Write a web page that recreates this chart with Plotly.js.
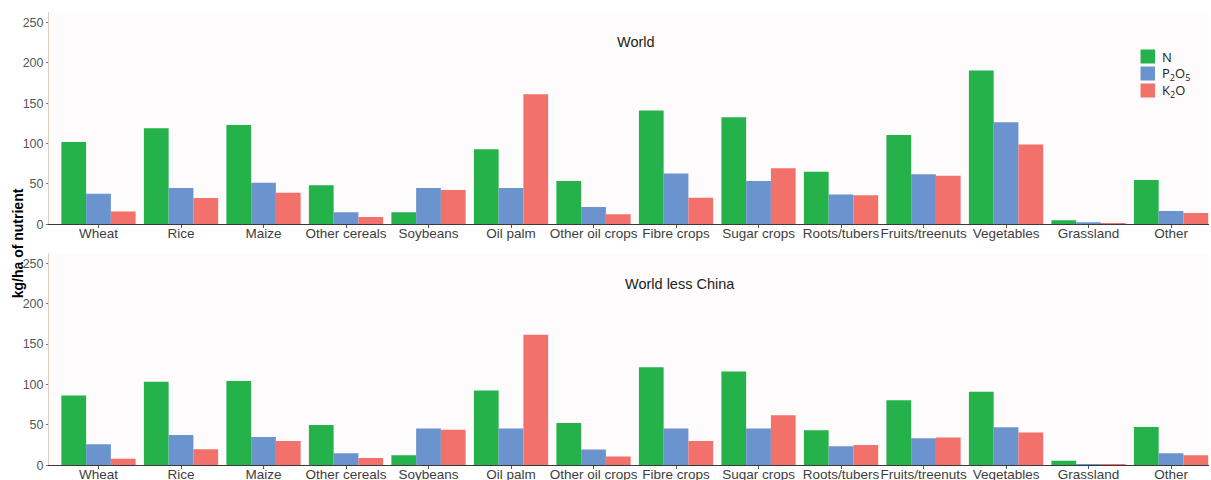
<!DOCTYPE html>
<html>
<head>
<meta charset="utf-8">
<script src="https://cdn.plot.ly/plotly-3.0.1.min.js"></script>
<style>
  html, body { margin: 0; padding: 0; background: #ffffff; overflow: hidden; }
  #chart { width: 1211px; height: 480px; }
</style>
</head>
<body>
<div id="chart"></div>
<script>
// Crop categories
const crops = ["Wheat", "Rice", "Maize", "Other cereals", "Soybeans", "Oil palm",
  "Other oil crops", "Fibre crops", "Sugar crops", "Roots/tubers",
  "Fruits/treenuts", "Vegetables", "Grassland", "Other"];

// Nutrient application rates, kg/ha — World
const worldN   = [102, 119, 123, 48.5, 15, 93, 53.5, 141, 132.5, 65, 110.5, 190.5, 5, 55];
const worldP2O5 = [38, 45, 51.5, 15, 45, 45, 21.5, 63, 53.5, 37, 62, 126.5, 2.5, 16.5];
const worldK2O = [16, 32.5, 39, 9, 42.5, 161, 12.5, 33, 69.5, 36, 60, 99, 1.5, 14];

// Nutrient application rates, kg/ha — World less China
const restN    = [86.5, 103.5, 104.5, 50, 12.5, 92.5, 52.5, 121.5, 116, 43.5, 80.5, 91, 5.5, 47.5];
const restP2O5 = [26, 37.5, 35, 15, 45.5, 45.5, 19.5, 45.5, 45.5, 23.5, 33.5, 47, 1.5, 15];
const restK2O  = [8, 20, 30, 9, 44, 161.5, 11, 30, 62, 25, 34.5, 40.5, 1.5, 12.5];

const seriesNames = ["N", "P<sub>2</sub>O<sub>5</sub>", "K<sub>2</sub>O"];
const colors = ["#25b24a", "#6b93cd", "#f2716b"];

const FONT = "Liberation Sans, Arial, Helvetica, sans-serif";
const W = 1211, H = 480, ML = 49, MR = 1.5;
const plotW = W - ML - MR;
// pixel -> paper helpers for layout furniture
const px = v => (v - ML) / plotW;
const py = v => (H - v) / H;

function bars(values, idx, axisSuffix) {
  return {
    type: "bar",
    x: crops,
    y: values,
    name: seriesNames[idx],
    marker: { color: colors[idx], line: { width: 0 } },
    xaxis: "x" + axisSuffix,
    yaxis: "y" + axisSuffix,
    showlegend: false
  };
}

const data = [
  bars(worldN, 0, ""),
  bars(worldP2O5, 1, ""),
  bars(worldK2O, 2, ""),
  bars(restN, 0, "2"),
  bars(restP2O5, 1, "2"),
  bars(restK2O, 2, "2")
];

const xCommon = {
  type: "category",
  range: [-0.6, 13.46],
  showgrid: false,
  zeroline: false,
  showline: true,
  linecolor: "#3a3a3a",
  linewidth: 1,
  ticks: "outside",
  ticklen: 3,
  tickcolor: "#555555",
  tickangle: 0,
  ticklabelstandoff: -7,
  tickfont: { family: FONT, size: 13.5, color: "#3d3d3d" },
  fixedrange: true
};

const yCommon = {
  range: [0, 263],
  tickvals: [0, 50, 100, 150, 200, 250],
  showgrid: false,
  zeroline: false,
  showline: true,
  linecolor: "#e3cdbf",
  linewidth: 1,
  ticks: "outside",
  ticklen: 2,
  tickcolor: "#777777",
  tickfont: { family: FONT, size: 12.5, color: "#555555" },
  fixedrange: true
};

// Legend: swatches + labels in the top panel's upper right
const legendShapes = [];
const legendNotes = [];
seriesNames.forEach((name, i) => {
  const top = 49.5 + i * 17;
  legendShapes.push({
    type: "rect", xref: "paper", yref: "paper",
    x0: px(1141), x1: px(1155.5), y0: py(top + 14), y1: py(top),
    fillcolor: colors[i], line: { width: 0 }
  });
  legendNotes.push({
    text: name, xref: "paper", yref: "paper",
    x: px(1160), y: py(top + 7.5), xanchor: "left", yanchor: "middle",
    showarrow: false,
    font: { family: "Open Sans, Liberation Sans, sans-serif", size: 13, color: "#222222" }
  });
});

const layout = {
  width: W,
  height: H,
  margin: { l: ML, r: MR, t: 0, b: 0, pad: 0 },
  paper_bgcolor: "#ffffff",
  plot_bgcolor: "#fdfbfb",
  barmode: "group",
  bargap: 0.1,
  bargroupgap: 0,
  showlegend: false,
  font: { family: FONT, color: "#333333" },
  xaxis: Object.assign({}, xCommon, { domain: [0, 1], anchor: "y" }),
  yaxis: Object.assign({}, yCommon, { domain: [0.5327, 0.975], anchor: "x" }),
  xaxis2: Object.assign({}, xCommon, { domain: [0, 1], anchor: "y2" }),
  yaxis2: Object.assign({}, yCommon, { domain: [0.0306, 0.4733], anchor: "x2" }),
  shapes: legendShapes,
  annotations: [
    {
      text: "World", xref: "paper", yref: "paper", x: px(635.8), y: py(42),
      xanchor: "center", yanchor: "middle", showarrow: false,
      font: { family: FONT, size: 14.5, color: "#222222" }
    },
    {
      text: "World less China", xref: "paper", yref: "paper", x: px(680.3), y: py(283.5),
      xanchor: "center", yanchor: "middle", showarrow: false,
      font: { family: FONT, size: 14.5, color: "#222222" }
    },
    {
      text: "<b>kg/ha of nutrient</b>", xref: "paper", yref: "paper", x: px(18), y: py(243.3),
      xanchor: "center", yanchor: "middle", textangle: -90, showarrow: false,
      font: { family: FONT, size: 14, color: "#000000" }
    }
  ].concat(legendNotes)
};

Plotly.newPlot("chart", data, layout, { displayModeBar: false, staticPlot: true });
</script>
</body>
</html>
